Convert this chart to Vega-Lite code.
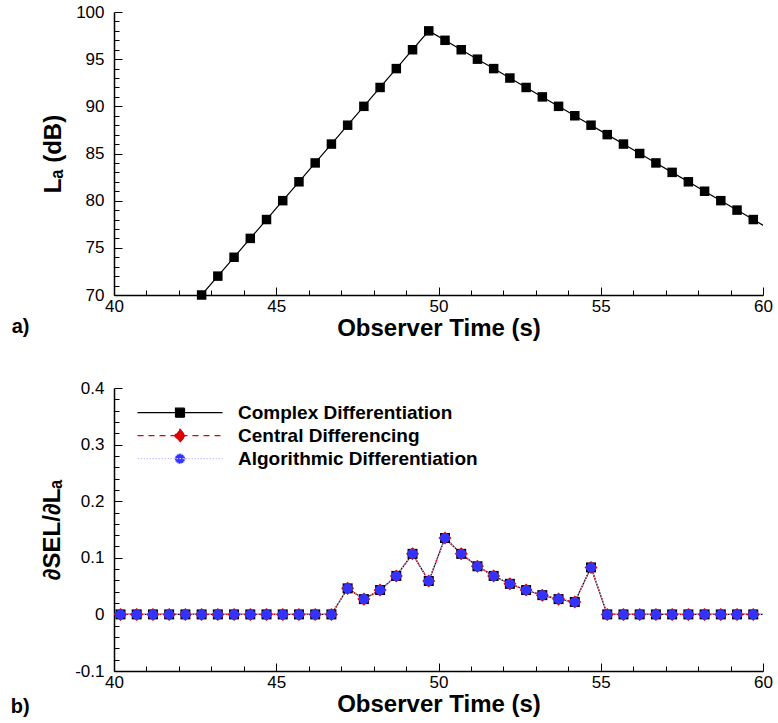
{
  "$schema": "https://vega.github.io/schema/vega-lite/v6.json",
  "padding": {"left": 10, "top": 3, "right": 5, "bottom": 5},
  "bounds": "flush",
  "spacing": 93,
  "resolve": {"legend": {"color": "independent"}},
  "config": {
    "font": "Liberation Sans",
    "view": {"stroke": null},
    "axis": {
      "domainColor": "#000", "domainWidth": 1.5,
      "gridColor": "#000", "gridWidth": 1, "gridOpacity": 1,
      "labelFont": "Liberation Sans", "labelFontSize": 17, "labelColor": "#000",
      "titleFont": "Liberation Sans", "titleFontSize": 24, "titleFontWeight": "bold", "titleColor": "#000",
      "labelFlush": false, "labelOverlap": false, "labelBound": false
    },
    "axisX": {"labelPadding": 3, "titlePadding": 2},
    "axisY": {"labelPadding": 10, "titlePadding": 10},
    "title": {"font": "Liberation Sans", "fontSize": 20, "fontWeight": "bold", "color": "#000"}
  },
  "vconcat": [
    {
      "width": 649, "height": 283,
      "title": {"text": "a)", "orient": "bottom", "anchor": "start", "dx": -30, "dy": -27},
      "data": {"values": [
        {"t": 42.2, "L": 68}, {"t": 42.7, "L": 70}, {"t": 43.2, "L": 72}, {"t": 43.7, "L": 74},
        {"t": 44.2, "L": 76}, {"t": 44.7, "L": 78}, {"t": 45.2, "L": 80}, {"t": 45.7, "L": 82},
        {"t": 46.2, "L": 84}, {"t": 46.7, "L": 86}, {"t": 47.2, "L": 88}, {"t": 47.7, "L": 90},
        {"t": 48.2, "L": 92}, {"t": 48.7, "L": 94}, {"t": 49.2, "L": 96}, {"t": 49.7, "L": 98},
        {"t": 50.2, "L": 97}, {"t": 50.7, "L": 96}, {"t": 51.2, "L": 95}, {"t": 51.7, "L": 94},
        {"t": 52.2, "L": 93}, {"t": 52.7, "L": 92}, {"t": 53.2, "L": 91}, {"t": 53.7, "L": 90},
        {"t": 54.2, "L": 89}, {"t": 54.7, "L": 88}, {"t": 55.2, "L": 87}, {"t": 55.7, "L": 86},
        {"t": 56.2, "L": 85}, {"t": 56.7, "L": 84}, {"t": 57.2, "L": 83}, {"t": 57.7, "L": 82},
        {"t": 58.2, "L": 81}, {"t": 58.7, "L": 80}, {"t": 59.2, "L": 79}, {"t": 59.7, "L": 78},
        {"t": 60.2, "L": 77}
      ]},
      "resolve": {"axis": {"x": "independent", "y": "independent"}},
      "layer": [
        {
          "mark": {"type": "line", "color": "#000", "strokeWidth": 1.2, "clip": true},
          "encoding": {
            "x": {"field": "t", "type": "quantitative",
              "scale": {"domain": [40, 60], "nice": false, "zero": false},
              "axis": {"title": "Observer Time (s)", "orient": "bottom", "values": [40, 45, 50, 55, 60],
                "ticks": false, "grid": true, "gridDash": [8, 275], "gridDashOffset": 8, "labelOverlap": false, "labelFlush": false}},
            "y": {"field": "L", "type": "quantitative",
              "scale": {"domain": [70, 100], "nice": false, "zero": false},
              "axis": {"title": "Lₐ (dB)", "orient": "left", "values": [70, 75, 80, 85, 90, 95, 100],
                "ticks": false, "grid": true, "gridDash": [8, 1000], "labelOverlap": false, "labelFlush": false}}
          }
        },
        {
          "transform": [{"filter": "datum.t >= 40 && datum.t <= 60 && datum.L >= 70"}],
          "mark": {"type": "point", "shape": "square", "filled": true, "color": "#000", "size": 90, "opacity": 1},
          "encoding": {
            "x": {"field": "t", "type": "quantitative",
              "axis": {"title": null, "orient": "bottom", "labels": false, "domain": false, "ticks": false,
                "grid": true, "gridDash": [5, 278], "gridDashOffset": 5,
                "values": [41,42,43,44,46,47,48,49,51,52,53,54,56,57,58,59]}},
            "y": {"field": "L", "type": "quantitative",
              "axis": {"title": null, "orient": "left", "labels": false, "domain": false, "ticks": false,
                "grid": true, "gridDash": [5, 1000],
                "values": [71,72,73,74,76,77,78,79,81,82,83,84,86,87,88,89,91,92,93,94,96,97,98,99]}}
          }
        }
      ]
    },
    {
      "width": 649, "height": 283,
      "title": {"text": "b)", "orient": "bottom", "anchor": "start", "dx": -30, "dy": -23},
      "data": {"values": [
        {"t": 39.7, "Complex Differentiation": 0, "Central Differencing": 0, "Algorithmic Differentiation": 0},
        {"t": 40.2, "Complex Differentiation": 0, "Central Differencing": 0, "Algorithmic Differentiation": 0},
        {"t": 40.7, "Complex Differentiation": 0, "Central Differencing": 0, "Algorithmic Differentiation": 0},
        {"t": 41.2, "Complex Differentiation": 0, "Central Differencing": 0, "Algorithmic Differentiation": 0},
        {"t": 41.7, "Complex Differentiation": 0, "Central Differencing": 0, "Algorithmic Differentiation": 0},
        {"t": 42.2, "Complex Differentiation": 0, "Central Differencing": 0, "Algorithmic Differentiation": 0},
        {"t": 42.7, "Complex Differentiation": 0, "Central Differencing": 0, "Algorithmic Differentiation": 0},
        {"t": 43.2, "Complex Differentiation": 0, "Central Differencing": 0, "Algorithmic Differentiation": 0},
        {"t": 43.7, "Complex Differentiation": 0, "Central Differencing": 0, "Algorithmic Differentiation": 0},
        {"t": 44.2, "Complex Differentiation": 0, "Central Differencing": 0, "Algorithmic Differentiation": 0},
        {"t": 44.7, "Complex Differentiation": 0, "Central Differencing": 0, "Algorithmic Differentiation": 0},
        {"t": 45.2, "Complex Differentiation": 0, "Central Differencing": 0, "Algorithmic Differentiation": 0},
        {"t": 45.7, "Complex Differentiation": 0, "Central Differencing": 0, "Algorithmic Differentiation": 0},
        {"t": 46.2, "Complex Differentiation": 0, "Central Differencing": 0, "Algorithmic Differentiation": 0},
        {"t": 46.7, "Complex Differentiation": 0, "Central Differencing": 0, "Algorithmic Differentiation": 0},
        {"t": 47.2, "Complex Differentiation": 0.046, "Central Differencing": 0.046, "Algorithmic Differentiation": 0.046},
        {"t": 47.7, "Complex Differentiation": 0.027, "Central Differencing": 0.027, "Algorithmic Differentiation": 0.027},
        {"t": 48.2, "Complex Differentiation": 0.043, "Central Differencing": 0.043, "Algorithmic Differentiation": 0.043},
        {"t": 48.7, "Complex Differentiation": 0.068, "Central Differencing": 0.068, "Algorithmic Differentiation": 0.068},
        {"t": 49.2, "Complex Differentiation": 0.107, "Central Differencing": 0.107, "Algorithmic Differentiation": 0.107},
        {"t": 49.7, "Complex Differentiation": 0.059, "Central Differencing": 0.059, "Algorithmic Differentiation": 0.059},
        {"t": 50.2, "Complex Differentiation": 0.135, "Central Differencing": 0.135, "Algorithmic Differentiation": 0.135},
        {"t": 50.7, "Complex Differentiation": 0.107, "Central Differencing": 0.107, "Algorithmic Differentiation": 0.107},
        {"t": 51.2, "Complex Differentiation": 0.085, "Central Differencing": 0.085, "Algorithmic Differentiation": 0.085},
        {"t": 51.7, "Complex Differentiation": 0.068, "Central Differencing": 0.068, "Algorithmic Differentiation": 0.068},
        {"t": 52.2, "Complex Differentiation": 0.054, "Central Differencing": 0.054, "Algorithmic Differentiation": 0.054},
        {"t": 52.7, "Complex Differentiation": 0.043, "Central Differencing": 0.043, "Algorithmic Differentiation": 0.043},
        {"t": 53.2, "Complex Differentiation": 0.034, "Central Differencing": 0.034, "Algorithmic Differentiation": 0.034},
        {"t": 53.7, "Complex Differentiation": 0.027, "Central Differencing": 0.027, "Algorithmic Differentiation": 0.027},
        {"t": 54.2, "Complex Differentiation": 0.022, "Central Differencing": 0.022, "Algorithmic Differentiation": 0.022},
        {"t": 54.7, "Complex Differentiation": 0.083, "Central Differencing": 0.083, "Algorithmic Differentiation": 0.083},
        {"t": 55.2, "Complex Differentiation": 0, "Central Differencing": 0, "Algorithmic Differentiation": 0},
        {"t": 55.7, "Complex Differentiation": 0, "Central Differencing": 0, "Algorithmic Differentiation": 0},
        {"t": 56.2, "Complex Differentiation": 0, "Central Differencing": 0, "Algorithmic Differentiation": 0},
        {"t": 56.7, "Complex Differentiation": 0, "Central Differencing": 0, "Algorithmic Differentiation": 0},
        {"t": 57.2, "Complex Differentiation": 0, "Central Differencing": 0, "Algorithmic Differentiation": 0},
        {"t": 57.7, "Complex Differentiation": 0, "Central Differencing": 0, "Algorithmic Differentiation": 0},
        {"t": 58.2, "Complex Differentiation": 0, "Central Differencing": 0, "Algorithmic Differentiation": 0},
        {"t": 58.7, "Complex Differentiation": 0, "Central Differencing": 0, "Algorithmic Differentiation": 0},
        {"t": 59.2, "Complex Differentiation": 0, "Central Differencing": 0, "Algorithmic Differentiation": 0},
        {"t": 59.7, "Complex Differentiation": 0, "Central Differencing": 0, "Algorithmic Differentiation": 0},
        {"t": 60.2, "Complex Differentiation": 0, "Central Differencing": 0, "Algorithmic Differentiation": 0}
      ]},
      "transform": [
        {"fold": ["Complex Differentiation", "Central Differencing", "Algorithmic Differentiation"], "as": ["method", "v"]}
      ],
      "resolve": {"axis": {"x": "independent", "y": "independent"}},
      "layer": [
        {
          "mark": {"type": "line", "strokeWidth": 1.2, "clip": true},
          "encoding": {
            "x": {"field": "t", "type": "quantitative",
              "scale": {"domain": [40, 60], "nice": false, "zero": false},
              "axis": {"title": "Observer Time (s)", "orient": "bottom", "values": [40, 45, 50, 55, 60],
                "ticks": false, "grid": true, "gridDash": [8, 275], "gridDashOffset": 8, "labelOverlap": false, "labelFlush": false}},
            "y": {"field": "v", "type": "quantitative",
              "scale": {"domain": [-0.1, 0.4], "nice": false, "zero": false},
              "axis": {"title": "∂SEL/∂Lₐ", "orient": "left", "values": [-0.1, 0, 0.1, 0.2, 0.3, 0.4],
                "labelExpr": "toString(round(datum.value*10)/10)",
                "ticks": false, "grid": true, "gridDash": [8, 1000], "labelOverlap": false, "labelFlush": false}},
            "color": {"field": "method", "type": "nominal",
              "scale": {"domain": ["Complex Differentiation", "Central Differencing", "Algorithmic Differentiation"], "range": ["#000000", "#dd0000", "#c8c8ff"]},
              "legend": {
                "title": null, "orient": "none", "legendX": 56.5, "legendY": 15.2, "padding": 0,
                "symbolSize": 100, "labelFontSize": 19, "labelFontWeight": "bold", "labelFont": "Liberation Sans",
                "labelColor": "#000", "labelOffset": 48.5, "rowPadding": 3, "labelLimit": 400, "symbolStrokeWidth": 1.2,
                "encode": {"symbols": {"update": {
                  "shape": {"signal": "datum.value === 'Complex Differentiation' ? 'M-8.5,0H8.5M-0.9,-0.9H0.9V0.9H-0.9Z' : datum.value === 'Central Differencing' ? 'M-8.5,0H8.5M0,-1.3L1.1,0L0,1.3L-1.1,0Z' : 'M-8.5,0H8.5M1,0A1,1,0,1,1,-1,0A1,1,0,1,1,1,0Z'"},
                  "fill": {"signal": "datum.value === 'Complex Differentiation' ? '#000000' : datum.value === 'Central Differencing' ? '#dd0000' : '#3333ff'"},
                  "stroke": {"signal": "datum.value === 'Complex Differentiation' ? '#000000' : datum.value === 'Central Differencing' ? '#dd0000' : '#aaaaff'"},
                  "strokeDash": {"signal": "datum.value === 'Complex Differentiation' ? [1,0] : datum.value === 'Central Differencing' ? [6,5] : [1.5,1.5]"},
                  "size": {"value": 100},
                  "opacity": {"value": 1}
                }}}
              }},
            "strokeDash": {"field": "method", "type": "nominal",
              "scale": {"domain": ["Complex Differentiation", "Central Differencing", "Algorithmic Differentiation"], "range": [[1, 0], [6, 5], [1.5, 1.5]]},
              "legend": null}
          }
        },
        {
          "transform": [{"filter": "datum.t >= 40 && datum.t <= 60 && datum.method === 'Complex Differentiation'"}],
          "mark": {"type": "point", "shape": "square", "filled": true, "color": "#000000", "size": 100, "opacity": 1},
          "encoding": {
            "x": {"field": "t", "type": "quantitative",
              "axis": {"title": null, "orient": "bottom", "labels": false, "domain": false, "ticks": false,
                "grid": true, "gridDash": [5, 278], "gridDashOffset": 5,
                "values": [41,42,43,44,46,47,48,49,51,52,53,54,56,57,58,59]}},
            "y": {"field": "v", "type": "quantitative",
              "axis": {"title": null, "orient": "left", "labels": false, "domain": false, "ticks": false,
                "grid": true, "gridDash": [5, 1000],
                "values": [-0.08,-0.06,-0.04,-0.02,0.02,0.04,0.06,0.08,0.12,0.14,0.16,0.18,0.22,0.24,0.26,0.28,0.32,0.34,0.36,0.38]}}
          }
        },
        {
          "transform": [{"filter": "datum.t >= 40 && datum.t <= 60 && datum.method === 'Central Differencing'"}],
          "mark": {"type": "point", "shape": "diamond", "filled": true, "color": "#dd0000", "size": 170, "opacity": 1},
          "encoding": {
            "x": {"field": "t", "type": "quantitative", "axis": null},
            "y": {"field": "v", "type": "quantitative", "axis": null}
          }
        },
        {
          "transform": [{"filter": "datum.t >= 40 && datum.t <= 60 && datum.method === 'Algorithmic Differentiation'"}],
          "mark": {"type": "point", "shape": "circle", "filled": true, "color": "#3333ff", "size": 100, "opacity": 1},
          "encoding": {
            "x": {"field": "t", "type": "quantitative", "axis": null},
            "y": {"field": "v", "type": "quantitative", "axis": null}
          }
        }
      ]
    }
  ]
}
